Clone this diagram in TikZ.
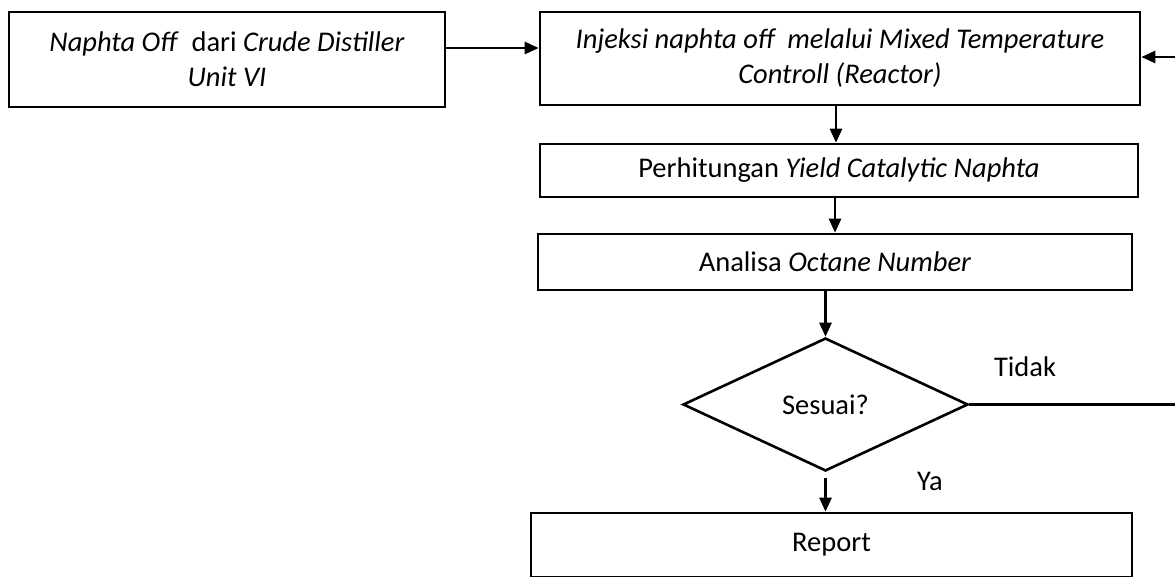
\documentclass[tikz,border=0pt]{standalone}
\usepackage{fontspec}
\setmainfont{Carlito}
\usetikzlibrary{arrows.meta,shapes.geometric}
\begin{document}
\begin{tikzpicture}[x=1pt,y=-1pt,
  every node/.style={font=\fontsize{28.5}{35}\selectfont},
  box/.style={draw,line width=2.6pt,rectangle,inner sep=0pt,align=center},
  dec/.style={draw,line width=2.6pt,diamond,inner sep=0pt},
  lab/.style={inner sep=0pt},
  line/.style={line width=2.6pt},
  arr/.style={line width=2.6pt,-{Triangle[length=14pt,width=12pt]}}]
\useasboundingbox (0,0) rectangle (1175,577);
\node[box,minimum width=436pt,minimum height=95pt] (A) at (227,59.5)
  {\textit{Naphta Off}\ \ dari \textit{Crude Distiller}\\\textit{Unit VI}};
\node[box,minimum width=600pt,minimum height=93pt] (B) at (840,58.5)
  {\textit{Injeksi naphta off\ \ melalui Mixed Temperature}\\\textit{Controll (Reactor)}};
\node[box,minimum width=598pt,minimum height=53pt] (C) at (839,170.5)
  {Perhitungan \textit{Yield Catalytic Naphta}};
\node[box,minimum width=594pt,minimum height=56pt] (D) at (835,262)
  {Analisa \textit{Octane Number}};
\node[dec,minimum width=285pt,minimum height=133pt] (S) at (825.5,404.5) {Sesuai?};
\node[box,minimum width=601pt,minimum height=64pt] (R) at (831.5,545) {Report};
\node[lab] (T) at (1025,367) {Tidak};
\node[lab] (Y) at (930,481) {Ya};
\coordinate (e1) at (1175,404.5);
\coordinate (e2) at (1175,57);
\draw[arr] (A.east |- 0,48) -- (B.west |- 0,48);
\draw[arr] (B.south -| 836,0) -- (C.north -| 836,0);
\draw[arr] (C.south -| 835,0) -- (D.north -| 835,0);
\draw[arr] (D.south -| S.north) -- (S.north);
\draw[arr] ([yshift=-6pt]S.south) -- (R.north -| S.south);
\draw[line] (S.east) -- (e1);
\draw[arr] (e2) -- (e2 -| B.east);
\end{tikzpicture}
\end{document}
